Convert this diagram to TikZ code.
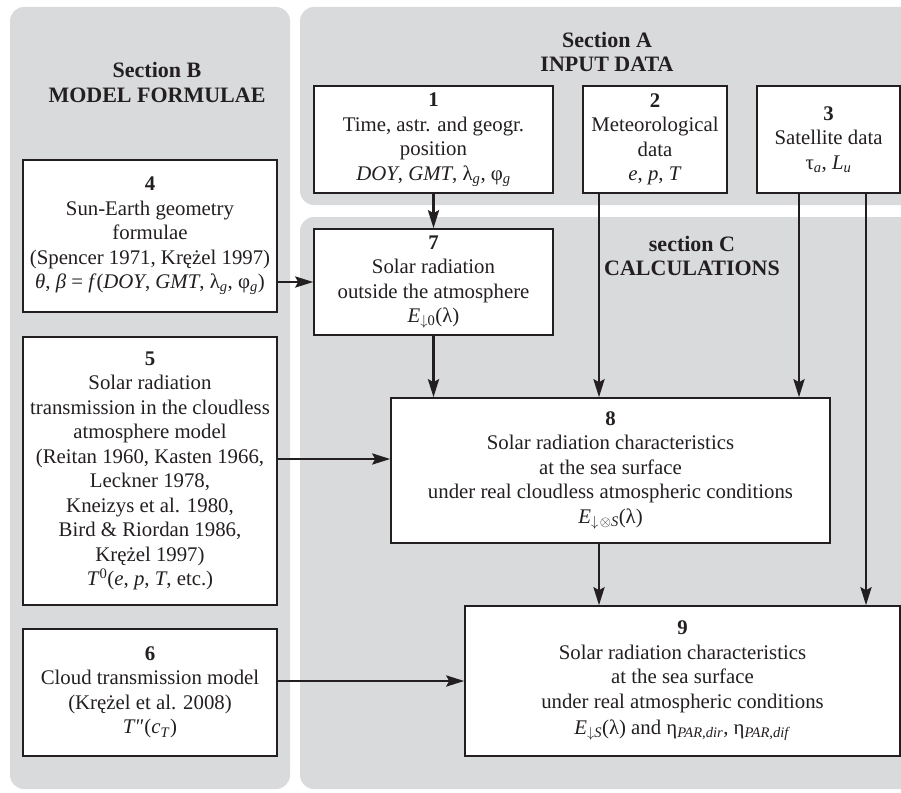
\documentclass[tikz,border=0pt]{standalone}
\usepackage{fontspec}
\setmainfont{Liberation Serif}
\usetikzlibrary{arrows.meta,calc}
\definecolor{panelgray}{RGB}{217,218,220}
\definecolor{ink}{RGB}{35,31,32}
\newcommand{\sbi}[1]{\textsubscript{\textit{#1}}}
\begin{document}
\begin{tikzpicture}[x=1pt,y=-1pt,
  panel/.style={fill=panelgray,draw=none,rounded corners=14pt},
  box/.style={draw=ink,fill=white,line width=1.5pt,inner sep=0pt,align=center,text=ink,
    font=\fontsize{20.8pt}{24.5pt}\selectfont},
  title/.style={align=center,text=ink,font=\fontsize{22pt}{24.5pt}\selectfont\bfseries},
  arr/.style={draw=ink,line width=2.9pt,-{Stealth[length=18pt,width=11pt,inset=3pt]}}]
\clip (0,0) rectangle (901,792);
\useasboundingbox (0,0) rectangle (901,792);
% panels
\fill[panel] (10,7) rectangle (290,789);
\fill[panel] (300,7) rectangle (930,205);
\fill[panel] (300,217) rectangle (930,789);
% titles
\node[title] (tB) at (157,82.5) {Section B\\MODEL FORMULAE};
\node[title] (tA) at (607,52) {Section A\\INPUT DATA};
\node[title] (tC) at (692,256) {section C\\CALCULATIONS};
% boxes
\node[box,minimum width=239pt,minimum height=107pt] (n1) at (433.5,139.5)
  {\textbf{1}\\Time, astr. and geogr.\\position\\\textit{DOY}, \textit{GMT}, λ\sbi{g}, φ\sbi{g}};
\node[box,minimum width=144pt,minimum height=107pt] (n2) at (655,139.5)
  {\textbf{2}\\Meteorological\\data\\\textit{e}, \textit{p}, \textit{T}};
\node[box,minimum width=143pt,minimum height=107pt] (n3) at (828.5,139.5)
  {\textbf{3}\\Satellite data\\τ\sbi{a}, \textit{L}\sbi{u}};
\node[box,minimum width=254pt,minimum height=152pt] (n4) at (150,236)
  {\textbf{4}\\Sun-Earth geometry\\formulae\\(Spencer 1971, Krężel 1997)\\\textit{θ}, \textit{β} = \textit{f}(\textit{DOY}, \textit{GMT}, λ\sbi{g}, φ\sbi{g})};
\node[box,minimum width=254pt,minimum height=268pt] (n5) at (150,471)
  {\textbf{5}\\Solar radiation\\transmission in the cloudless\\atmosphere model\\(Reitan 1960, Kasten 1966,\\Leckner 1978,\\Kneizys et al. 1980,\\Bird \& Riordan 1986,\\Krężel 1997)\\\textit{T}\textsuperscript{0}(\textit{e}, \textit{p}, \textit{T}, etc.)};
\node[box,minimum width=254pt,minimum height=127pt] (n6) at (150,692.5)
  {\textbf{6}\\Cloud transmission model\\(Krężel et al. 2008)\\\textit{T}″(\textit{c}\sbi{T})};
\node[box,minimum width=239pt,minimum height=106pt] (n7) at (433.5,282)
  {\textbf{7}\\Solar radiation\\outside the atmosphere\\\textit{E}\textsubscript{$\downarrow$0}(λ)};
\node[box,minimum width=439pt,minimum height=145pt] (n8) at (610.5,470.5)
  {\textbf{8}\\Solar radiation characteristics\\at the sea surface\\under real cloudless atmospheric conditions\\\textit{E}\textsubscript{$\downarrow\!\mathord{\otimes}$\textit{S}}(λ)};
\node[box,minimum width=435pt,minimum height=150pt] (n9) at (682.5,681)
  {\textbf{9}\\Solar radiation characteristics\\at the sea surface\\under real atmospheric conditions\\[2pt]\textit{E}\sbi{$\downarrow$S}(λ) and η\sbi{PAR,dir}, η\sbi{PAR,dif}};
% connector columns
\coordinate (c2) at (599,0);
\coordinate (c3a) at (799,0);
\coordinate (c3b) at (866,0);
\coordinate (r5) at (0,459);
% connectors
\draw[arr] (n1.south) -- (n7.north);
\draw[arr] (n4.east |- n7.west) -- (n7.west);
\draw[arr] (n7.south) -- (n7.south |- n8.north);
\draw[arr] (n2.south -| c2) -- (n8.north -| c2);
\draw[arr] (n3.south -| c3a) -- (n8.north -| c3a);
\draw[arr] (n3.south -| c3b) -- (n9.north -| c3b);
\draw[arr] (n5.east |- r5) -- (n8.west |- r5);
\draw[arr] (n8.south -| c2) -- (n9.north -| c2);
\draw[arr] (n6.east |- n9.west) -- (n9.west);
\end{tikzpicture}
\end{document}
